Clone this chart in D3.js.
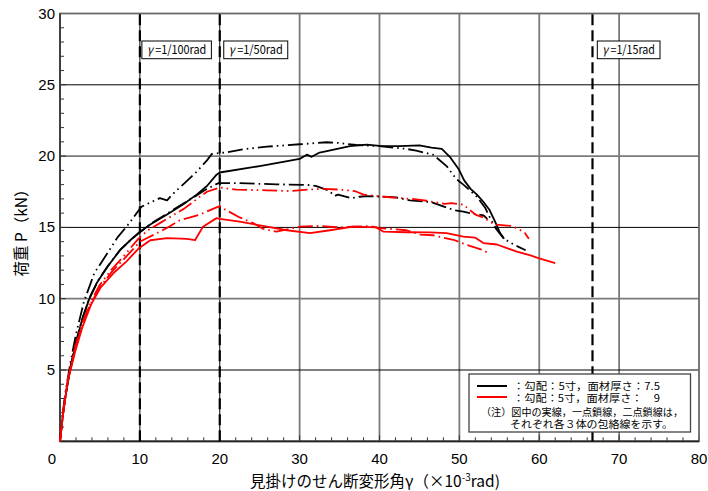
<!DOCTYPE html>
<html>
<head>
<meta charset="utf-8">
<script src="https://cdn.jsdelivr.net/npm/d3@7"></script>
<style>
  html, body { margin: 0; padding: 0; background: #fff; }
  svg { display: block; }
</style>
</head>
<body>
<svg id="chart" width="708" height="491"></svg>
<script>
// Envelope curves: shear deformation angle (×10^-3 rad) vs load P (kN)
const blackSolid = [
  [0,0],[0.3,1.5],[0.6,2.9],[1.2,4.8],[1.9,6.6],[2.7,8.4],[3.6,9.9],[4.6,11.1],[5.9,12.2],
  [7.5,13.4],[8.8,14.1],[9.8,14.6],[11.3,15.2],[13.4,15.9],[15.4,16.6],[17.1,17.3],[18.4,17.9],
  [19.6,18.7],[20.0,18.85],[25,19.3],[30,19.8],[30.9,20.1],[31.5,19.95],[32.5,20.25],[33.4,20.35],
  [36.3,20.7],[38.4,20.8],[40,20.72],[42.5,20.7],[45,20.75],[46.5,20.6],[47.8,20.5],[48.8,19.95],
  [49.9,19.1],[50.6,18.3],[51.4,17.7],[52.2,17.3],[53,16.8],[53.8,16.2],[54.4,15.5],[55.1,14.6],[55.6,14.2]
];
const blackDashDot = [
  [0,0],[0.3,1.6],[0.7,3.2],[1.3,5.2],[2.0,7.0],[2.9,8.8],[3.8,10.2],[4.8,11.3],[6.0,12.3],
  [7.5,13.4],[8.8,14.1],[10,14.65],[11.5,15.3],[13.5,16.0],[15.5,16.7],[17,17.2],[18.1,17.6],
  [19.8,18.1],[22.5,18.1],[27.1,18.02],[31.3,17.97],[32.1,17.9],[33.6,17.6],[34.4,17.2],[34.8,17.3],
  [36.5,17.04],[37.5,17.15],[38.4,17.2],[40.5,17.15],[42.1,17.1],[43.8,16.9],[45.9,16.8],[46.3,16.8],
  [49.4,16.2],[50.5,16.1],[51.3,16.0],[53,15.85],[53.5,15.6]
];
const blackDashDotDot = [
  [0,0],[0.3,1.8],[0.7,3.5],[1.3,5.5],[2.0,7.5],[3.0,9.8],[4.3,11.8],[5.6,12.9],[7.2,14.3],
  [8.4,15.1],[9.6,16.0],[10.2,16.45],[11.9,16.9],[12.5,17.05],[13.4,16.9],[14.4,17.5],[15.6,18.1],
  [17.1,18.9],[18.4,19.7],[19.0,20.15],[20.9,20.27],[22.9,20.48],[25.9,20.66],[30,20.83],[33.4,20.97],
  [34.6,20.94],[37.1,20.78],[40,20.7],[43.4,20.5],[44.6,20.38],[46.7,20.1],[48.4,19.3],[49.6,18.4],
  [50.5,18.0],[52.2,17.15],[53.2,16.4],[53.9,15.6],[54.6,14.9],[55.6,14.2],[56.8,13.8],[58.3,13.4]
];
const redSolid = [
  [0,0],[0.4,2.0],[1.0,4.3],[1.9,6.3],[2.8,8.0],[3.9,9.6],[5.1,10.8],[6.7,11.8],[8.3,12.6],
  [9.8,13.5],[11.3,14.1],[13.4,14.25],[15.9,14.2],[16.9,14.1],[17.9,15.05],[19.6,15.65],[20,15.6],
  [22.5,15.4],[25.4,15.1],[28.4,14.8],[31.3,14.6],[33.8,14.8],[36.7,15.05],[39.6,15.0],[40.5,14.7],
  [43.4,14.66],[46.3,14.65],[48.4,14.6],[50.5,14.35],[52,14.28],[53,13.9],[54.7,13.8],[57.2,13.3],
  [58.8,13.05],[59.9,12.85],[62,12.5]
];
const redDashDot = [
  [0,0],[0.35,1.8],[0.9,4.0],[1.7,6.0],[2.6,7.8],[3.7,9.5],[5.0,10.8],[6.5,11.9],[8.2,12.9],
  [10,14.0],[11.8,14.5],[13.5,15.0],[15,15.5],[17.5,15.9],[19.6,16.4],[20,16.5],[20.2,16.4],
  [22.5,15.7],[24.2,15.3],[25.4,14.9],[27.1,14.7],[28.8,14.9],[30,15.05],[32.5,15.1],[35,15.0],
  [36.7,15.05],[38.8,15.1],[40,14.95],[43.4,14.8],[45.1,14.5],[46.7,14.45],[49.4,14.1],[51.3,13.7],
  [53,13.4],[53.6,13.2]
];
const redDashDotDot = [
  [0,0],[0.35,1.9],[0.9,4.1],[1.7,6.2],[2.6,8.0],[3.7,9.6],[4.9,10.9],[6.4,12.0],[8.0,13.0],
  [9.8,14.2],[11,14.8],[12.5,15.3],[14,15.8],[15.5,16.3],[16.7,16.8],[17.5,17.15],[18.4,17.5],
  [19.8,17.75],[20,17.8],[22.1,17.65],[25.9,17.6],[28.8,17.55],[31,17.65],[33,17.7],[35,17.65],
  [36.9,17.55],[38,17.3],[40.5,17.15],[44.6,16.97],[45.9,16.87],[47.6,16.7],[48.2,16.65],[49,16.7],
  [50.5,16.6],[52,15.9],[53,15.7],[54.4,15.2],[56.5,15.1],[57.4,14.9],[58.2,14.6],[58.7,14.2]
];

const xTicks = [0, 10, 20, 30, 40, 50, 60, 70, 80];
const yTicks = [5, 10, 15, 20, 25, 30];
const refAngles = [10, 20, 1000 / 15];
const refLabels = ["1/100rad", "1/50rad", "1/15rad"];
const legendTexts = [
  "：勾配：5寸，面材厚さ：7.5",
  "：勾配：5寸，面材厚さ：　9"
];
const noteTexts = [
  "（注）図中の実線，一点鎖線，二点鎖線は，",
  "それぞれ各３体の包絡線を示す。"
];

const svg = d3.select("#chart");
const plotLeft = 60, plotRight = 699, plotTop = 13.5, plotBottom = 441.3;

const x = d3.scaleLinear().domain([0, 80]).range([plotLeft, plotRight]);
const y = d3.scaleLinear().domain([0, 30]).range([plotBottom, plotTop]);

svg.append("rect").attr("width", 708).attr("height", 491).attr("fill", "#fff");

// grid
const g = svg.append("g");
[10, 20, 30, 40, 50, 60, 70].forEach(v => {
  const heavy = v >= 30;
  g.append("line")
    .attr("x1", x(v)).attr("x2", x(v)).attr("y1", y(0)).attr("y2", y(30))
    .attr("stroke", heavy ? "#7a7a7a" : "#000")
    .attr("stroke-width", heavy ? 1.8 : 1);
});
[5, 10, 15, 20, 25].forEach(v => {
  const heavy = v % 10 === 0;
  g.append("line")
    .attr("x1", x(0)).attr("x2", x(80)).attr("y1", y(v)).attr("y2", y(v))
    .attr("stroke", heavy ? "#7a7a7a" : "#000")
    .attr("stroke-width", heavy ? 1.8 : 1);
});

// minor ticks
const xMinor = d3.range(0, 81, 2);
const yMinor = d3.range(0, 31, 1);
g.selectAll(".xm").data(xMinor).join("line")
  .attr("x1", d => x(d)).attr("x2", d => x(d))
  .attr("y1", y(0)).attr("y2", d => y(0) - (d % 10 === 0 ? 6 : 4))
  .attr("stroke", "#333").attr("stroke-width", 1);
g.selectAll(".ym").data(yMinor).join("line")
  .attr("x1", x(0)).attr("x2", d => x(0) + (d % 5 === 0 ? 6 : 4))
  .attr("y1", d => y(d)).attr("y2", d => y(d))
  .attr("stroke", "#333").attr("stroke-width", 1);

// frame
svg.append("rect")
  .attr("x", x(0)).attr("y", y(30))
  .attr("width", x(80) - x(0)).attr("height", y(0) - y(30))
  .attr("fill", "none").attr("stroke", "#6a6a6a").attr("stroke-width", 1.8);
svg.append("line").attr("x1", x(0)).attr("x2", x(0)).attr("y1", y(0)).attr("y2", y(30))
  .attr("stroke", "#222").attr("stroke-width", 1.3);
svg.append("line").attr("x1", x(0)).attr("x2", x(80)).attr("y1", y(0)).attr("y2", y(0))
  .attr("stroke", "#222").attr("stroke-width", 1.8);

// reference drift lines
refAngles.forEach(v => {
  svg.append("line")
    .attr("x1", x(v)).attr("x2", x(v)).attr("y1", y(0)).attr("y2", y(30))
    .attr("stroke", "#000").attr("stroke-width", 2.2)
    .attr("stroke-dasharray", "11,5");
});

// reference labels
const labelBoxes = [
  { dx: 2, w: 69.5 },
  { dx: 4, w: 64 },
  { dx: 4.8, w: 62.7 }
];
refAngles.forEach((v, i) => {
  const bx = x(v) + labelBoxes[i].dx, by = 41, bw = labelBoxes[i].w, bh = 17.7;
  svg.append("rect").attr("x", bx).attr("y", by).attr("width", bw).attr("height", bh)
    .attr("fill", "#fff").attr("stroke", "#000").attr("stroke-width", 1);
  const t = svg.append("text")
    .attr("x", bx + 5).attr("y", by + 13.2)
    .attr("font-family", "'Noto Sans CJK JP', 'DejaVu Sans', sans-serif")
    .attr("font-size", 12)
    .attr("textLength", bw - 10).attr("lengthAdjust", "spacingAndGlyphs")
    .attr("fill", "#000");
  t.append("tspan").attr("font-style", "italic").text("γ");
  t.append("tspan").text(" =" + refLabels[i]);
});

// series
const line = d3.line().x(d => x(d[0])).y(d => y(d[1]));
const series = [
  { data: blackSolid, color: "#000", dash: null },
  { data: blackDashDot, color: "#000", dash: "15,4,1.6,4" },
  { data: blackDashDotDot, color: "#000", dash: "15,4,1.6,4,1.6,4" },
  { data: redSolid, color: "#ff0000", dash: null },
  { data: redDashDot, color: "#ff0000", dash: "15,4,1.6,4" },
  { data: redDashDotDot, color: "#ff0000", dash: "15,4,1.6,4,1.6,4" }
];
svg.append("g").selectAll("path").data(series).join("path")
  .attr("d", d => line(d.data))
  .attr("fill", "none")
  .attr("stroke", d => d.color)
  .attr("stroke-width", 1.8)
  .attr("stroke-linejoin", "round")
  .attr("stroke-dasharray", d => d.dash);

// tick labels
svg.append("g").selectAll("text").data(xTicks).join("text")
  .attr("x", d => d === 0 ? x(d) - 8 : x(d))
  .attr("y", 464)
  .attr("text-anchor", "middle")
  .attr("font-family", "'Liberation Sans', Arial, sans-serif")
  .attr("font-size", 15)
  .attr("fill", "#000")
  .text(d => d);
svg.append("g").selectAll("text").data(yTicks).join("text")
  .attr("x", 55)
  .attr("y", d => y(d) + 5)
  .attr("text-anchor", "end")
  .attr("font-family", "'Liberation Sans', Arial, sans-serif")
  .attr("font-size", 15)
  .attr("fill", "#000")
  .text(d => d);

// axis titles
const xt = svg.append("text")
  .attr("x", 375).attr("y", 487)
  .attr("text-anchor", "middle")
  .attr("font-family", "'Noto Sans CJK JP', sans-serif")
  .attr("font-size", 15.5)
  .attr("fill", "#000");
xt.append("tspan").text("見掛けのせん断変形角γ（×10");
xt.append("tspan").attr("font-size", 10).attr("dy", -6).text("-3");
xt.append("tspan").attr("dy", 6).text("rad)");

svg.append("text")
  .attr("transform", "translate(27,229) rotate(-90)")
  .attr("text-anchor", "middle")
  .attr("font-family", "'Noto Sans CJK JP', sans-serif")
  .attr("font-size", 15.5)
  .attr("fill", "#000")
  .text("荷重 P（kN）");

// legend
const lg = svg.append("g");
lg.append("rect").attr("x", 469).attr("y", 374).attr("width", 221.5).attr("height", 58)
  .attr("fill", "#fff").attr("stroke", "#444").attr("stroke-width", 1.3);
["#000", "#ff0000"].forEach((c, i) => {
  lg.append("line").attr("x1", 477).attr("x2", 507)
    .attr("y1", 386 + i * 11).attr("y2", 386 + i * 11)
    .attr("stroke", c).attr("stroke-width", 2);
});
const lgFont = { family: "'Noto Sans CJK JP', sans-serif", size: 10 };
legendTexts.forEach((t, i) => {
  lg.append("text").attr("x", 513).attr("y", 390 + i * 11.5)
    .attr("font-family", lgFont.family)
    .attr("font-size", lgFont.size).attr("fill", "#000")
    .attr("textLength", 147).attr("lengthAdjust", "spacingAndGlyphs")
    .text(t);
});
lg.append("text").attr("x", 481).attr("y", 415.5)
  .attr("font-family", lgFont.family)
  .attr("font-size", lgFont.size).attr("fill", "#000")
  .attr("textLength", 202).attr("lengthAdjust", "spacingAndGlyphs")
  .text(noteTexts[0]);
lg.append("text").attr("x", 510).attr("y", 428)
  .attr("font-family", lgFont.family)
  .attr("font-size", lgFont.size).attr("fill", "#000")
  .attr("textLength", 163).attr("lengthAdjust", "spacingAndGlyphs")
  .text(noteTexts[1]);
</script>
</body>
</html>
